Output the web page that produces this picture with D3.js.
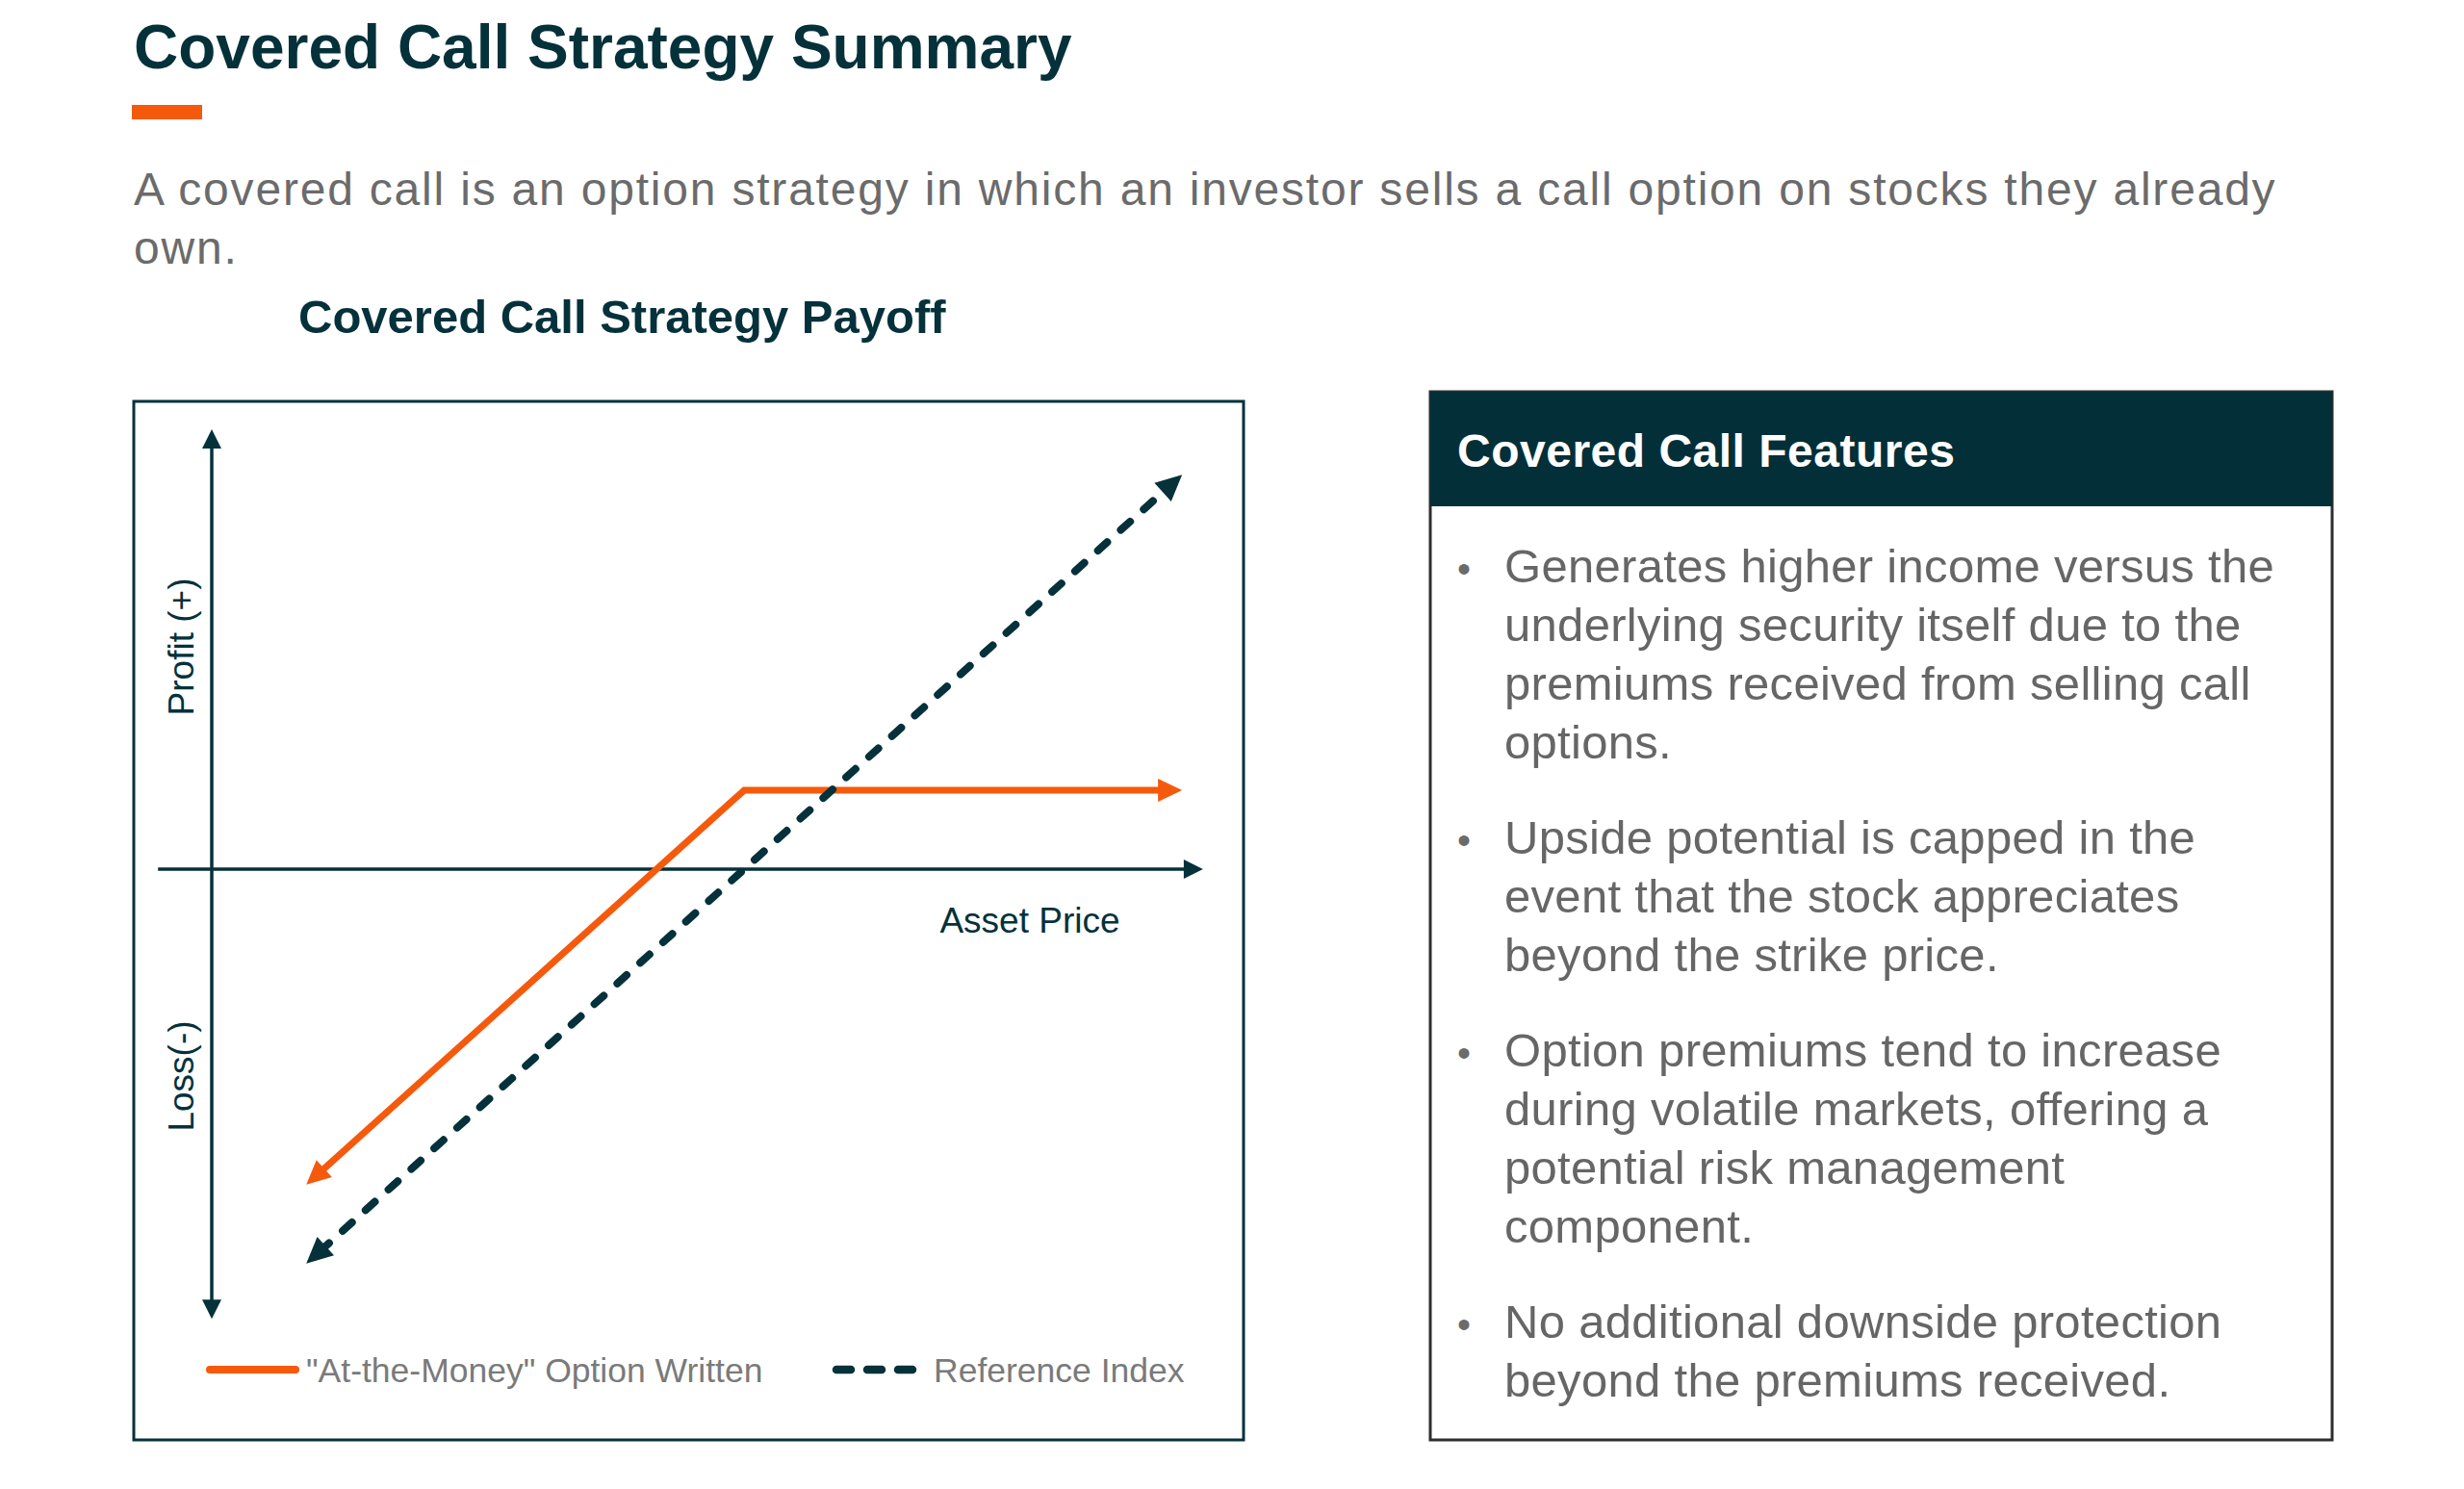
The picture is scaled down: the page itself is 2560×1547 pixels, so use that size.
<!DOCTYPE html>
<html>
<head>
<meta charset="utf-8">
<script src="https://cdnjs.cloudflare.com/ajax/libs/d3/7.8.5/d3.min.js"></script>
<style>
  body { margin: 0; background: #fff; }
  svg text { font-family: "Liberation Sans", Arial, Helvetica, sans-serif; }
</style>
</head>
<body>
<svg id="chart" width="2560" height="1547"></svg>
<script>
// payoff data (asset price vs profit, arbitrary units)
var assetPrice = [9.5, 53.5, 97.5];
var referenceIndex = [-40, 0, 40];
var optionWritten = [-32, 8, 8];

var xAxisExtent = [-5.4, 99.6];
var yAxisExtent = [-45.6, 44.6];

var legendLabels = ['"At-the-Money" Option Written', 'Reference Index'];

var featureItems = [
    ['Generates higher income versus the', 'underlying security itself due to the', 'premiums received from selling call', 'options.'],
    ['Upside potential is capped in the', 'event that the stock appreciates', 'beyond the strike price.'],
    ['Option premiums tend to increase', 'during volatile markets, offering a', 'potential risk management', 'component.'],
    ['No additional downside protection', 'beyond the premiums received.']
]

var teal = '#05313b'
var orange = '#f55a0c'

var svg = d3.select('#chart')

// header
svg.append('text')
    .attr('x', 139).attr('y', 71)
    .attr('font-size', 64).attr('font-weight', 'bold')
    .attr('fill', teal)
    .text('Covered Call Strategy Summary')

svg.append('rect')
    .attr('x', 137).attr('y', 109)
    .attr('width', 73).attr('height', 15)
    .attr('fill', orange)

var sub = svg.append('text')
    .attr('font-size', 48).attr('fill', '#6b6b6b')
    .attr('letter-spacing', 1.8)
sub.append('tspan').attr('x', 139).attr('y', 213)
    .text('A covered call is an option strategy in which an investor sells a call option on stocks they already')
sub.append('tspan').attr('x', 139).attr('y', 274).text('own.')

svg.append('text')
    .attr('x', 310).attr('y', 346)
    .attr('font-size', 49).attr('font-weight', 'bold')
    .attr('fill', teal)
    .text('Covered Call Strategy Payoff')

// chart frame
svg.append('rect')
    .attr('x', 139).attr('y', 417)
    .attr('width', 1153).attr('height', 1079)
    .attr('fill', 'none').attr('stroke', teal).attr('stroke-width', 3)

var x = d3.scaleLinear().domain([0, 100]).range([220, 1254])
var y = d3.scaleLinear().domain([-45, 45]).range([1364, 442])

function arrowHead(g, from, to, len, half, color) {
    var a = Math.atan2(to[1] - from[1], to[0] - from[0]) * 180 / Math.PI
    g.append('path')
        .attr('d', 'M0,0 L' + (-len) + ',' + (-half) + ' L' + (-len) + ',' + half + ' Z')
        .attr('transform', 'translate(' + to[0] + ',' + to[1] + ') rotate(' + a + ')')
        .attr('fill', color)
}

// pull an end point back along its segment so the head covers it
function trim(p, q, d) {
    var dx = q[0] - p[0], dy = q[1] - p[1]
    var l = Math.sqrt(dx * dx + dy * dy)
    return [p[0] + dx / l * d, p[1] + dy / l * d]
}

function arrowLine(g, pts, opts) {
    var n = pts.length
    var drawn = pts.slice()
    drawn[0] = trim(pts[0], pts[1], opts.len * 0.7)
    drawn[n - 1] = trim(pts[n - 1], pts[n - 2], opts.len * 0.7)
    var path = g.append('path')
        .attr('d', d3.line()(drawn))
        .attr('fill', 'none')
        .attr('stroke', opts.color)
        .attr('stroke-width', opts.width)
        .attr('stroke-linejoin', 'miter')
    if (opts.dash) path.attr('stroke-dasharray', opts.dash).attr('stroke-linecap', 'round')
    arrowHead(g, pts[1], pts[0], opts.len, opts.half, opts.color)
    arrowHead(g, pts[n - 2], pts[n - 1], opts.len, opts.half, opts.color)
}

var plot = svg.append('g')

// axes
arrowLine(plot, [[x(0), y(yAxisExtent[0])], [x(0), y(yAxisExtent[1])]], {color: teal, width: 3.5, len: 20, half: 10})
var xa = [[x(xAxisExtent[0]), y(0)], [x(xAxisExtent[1]), y(0)]]
plot.append('line')
    .attr('x1', xa[0][0]).attr('y1', xa[0][1])
    .attr('x2', xa[1][0] - 14).attr('y2', xa[1][1])
    .attr('stroke', teal).attr('stroke-width', 3.5)
arrowHead(plot, xa[0], xa[1], 20, 10, teal)

// payoff lines
var refPts = assetPrice.map(function(p, i) { return [x(p), y(referenceIndex[i])] })
var optPts = assetPrice.map(function(p, i) { return [x(p), y(optionWritten[i])] })

arrowLine(plot, optPts, {color: orange, width: 7, len: 25, half: 12})
arrowLine(plot, refPts, {color: teal, width: 8, len: 27, half: 13, dash: '13 19'})

// axis labels
plot.append('text')
    .attr('x', 1070).attr('y', 969)
    .attr('text-anchor', 'middle')
    .attr('font-size', 37).attr('fill', teal)
    .text('Asset Price')

plot.append('text')
    .attr('transform', 'translate(201,672) rotate(-90)')
    .attr('text-anchor', 'middle')
    .attr('font-size', 37).attr('fill', teal)
    .text('Profit (+)')

plot.append('text')
    .attr('transform', 'translate(201,1118) rotate(-90)')
    .attr('text-anchor', 'middle')
    .attr('font-size', 37).attr('fill', teal)
    .text('Loss(-)')

// legend
var legend = svg.append('g')
legend.append('line')
    .attr('x1', 218).attr('x2', 307).attr('y1', 1423).attr('y2', 1423)
    .attr('stroke', orange).attr('stroke-width', 8).attr('stroke-linecap', 'round')
legend.append('text')
    .attr('x', 318).attr('y', 1436)
    .attr('font-size', 35.5).attr('fill', '#7a7a7a')
    .text(legendLabels[0])
legend.append('line')
    .attr('x1', 869).attr('x2', 949).attr('y1', 1423).attr('y2', 1423)
    .attr('stroke', teal).attr('stroke-width', 8.5).attr('stroke-linecap', 'round')
    .attr('stroke-dasharray', '15 17')
legend.append('text')
    .attr('x', 970).attr('y', 1436)
    .attr('font-size', 35.5).attr('fill', '#7a7a7a')
    .text(legendLabels[1])

// features box
var box = svg.append('g')
box.append('rect')
    .attr('x', 1486).attr('y', 407)
    .attr('width', 937).attr('height', 1089)
    .attr('fill', '#fff').attr('stroke', '#2e2e2e').attr('stroke-width', 3)
box.append('rect')
    .attr('x', 1486).attr('y', 407)
    .attr('width', 937).attr('height', 119)
    .attr('fill', '#032f38')
box.append('text')
    .attr('x', 1514).attr('y', 485)
    .attr('font-size', 48).attr('font-weight', 'bold')
    .attr('letter-spacing', 0.5)
    .attr('fill', '#fff')
    .text('Covered Call Features')

var lineH = 61, paraGap = 38
var yPos = 605
featureItems.forEach(function(item) {
    box.append('text')
        .attr('x', 1514).attr('y', yPos)
        .attr('font-size', 40).attr('fill', '#6b6b6b')
        .text('•')
    var t = box.append('text')
        .attr('font-size', 49).attr('fill', '#666')
        .attr('letter-spacing', 0.3)
    item.forEach(function(line, i) {
        t.append('tspan').attr('x', 1563).attr('y', yPos + i * lineH).text(line)
    })
    yPos += item.length * lineH + paraGap
})
</script>
</body>
</html>
